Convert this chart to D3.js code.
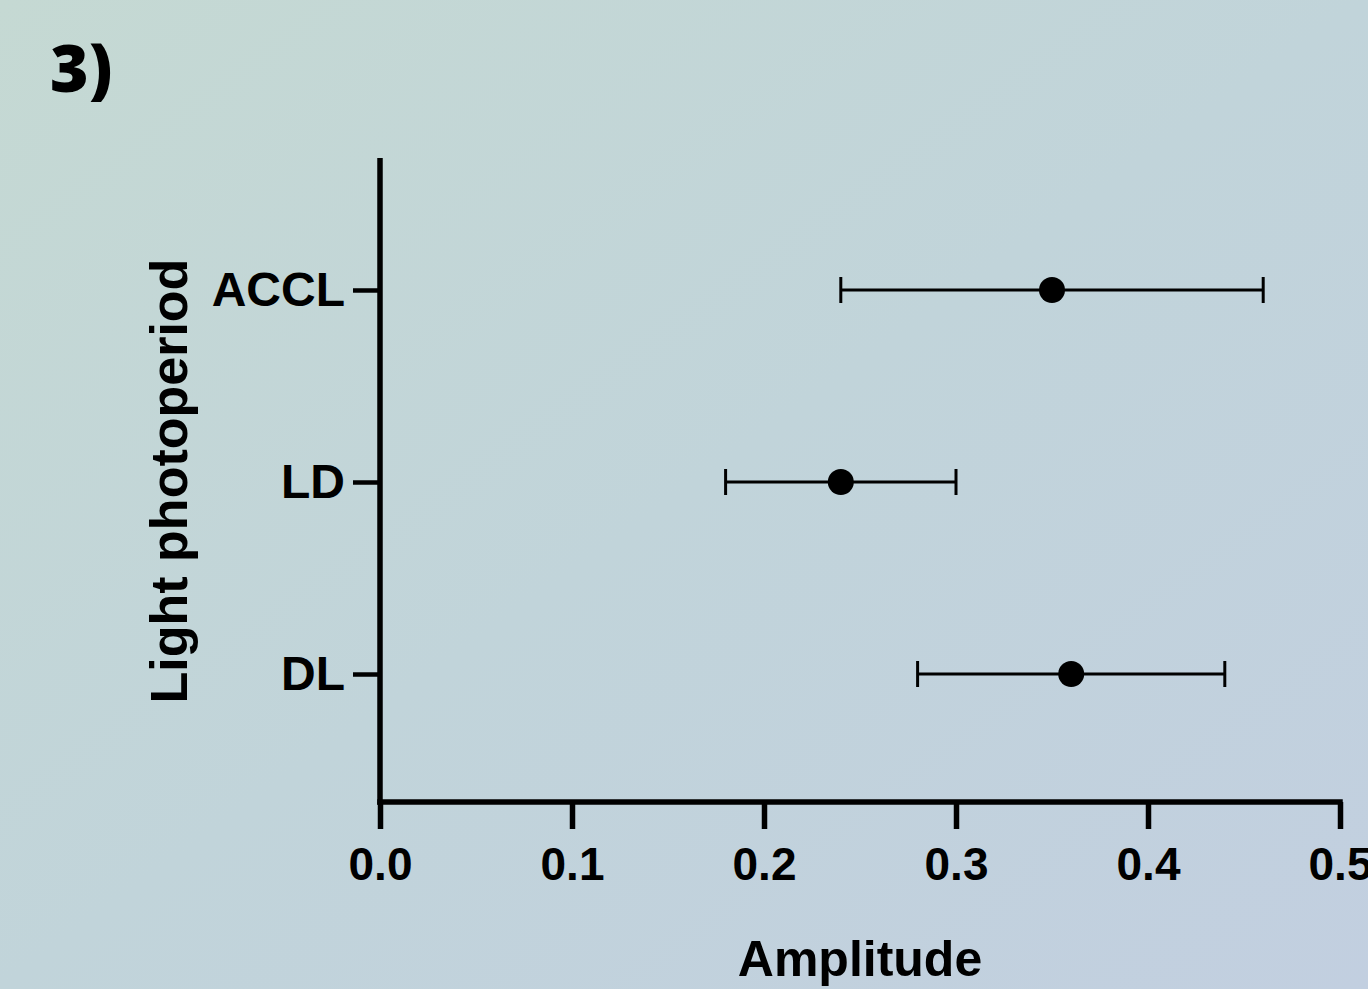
<!DOCTYPE html>
<html>
<head>
<meta charset="utf-8">
<script src="https://cdn.jsdelivr.net/npm/d3@7"></script>
<style>
  html, body { margin: 0; padding: 0; overflow: hidden; }
  svg { display: block; }
</style>
</head>
<body>
<script>
// ---- data ----
const categories = ["ACCL", "LD", "DL"];
const means = [0.35, 0.24, 0.36];
const lowers = [0.24, 0.18, 0.28];
const uppers = [0.46, 0.30, 0.44];
const xTicks = [0.0, 0.1, 0.2, 0.3, 0.4, 0.5];
const xTickLabels = ["0.0", "0.1", "0.2", "0.3", "0.4", "0.5"];
const panelLabel = "3)";
const xTitle = "Amplitude";
const yTitle = "Light photoperiod";

(function () {
const W = 1368, H = 989;
const svg = d3.select("body").append("svg").attr("width", W).attr("height", H);

const defs = svg.append("defs");
const grad = defs.append("linearGradient").attr("id", "bg")
  .attr("x1", "0%").attr("y1", "0%").attr("x2", "100%").attr("y2", "100%");
grad.append("stop").attr("offset", "0%").attr("stop-color", "#c5d9d3");
grad.append("stop").attr("offset", "50%").attr("stop-color", "#c1d4da");
grad.append("stop").attr("offset", "100%").attr("stop-color", "#c2cfe0");
svg.append("rect").attr("width", W).attr("height", H).attr("fill", "url(#bg)");

const pLeft = 380, pRight = 1340, pTop = 158, pBottom = 802;

const x = d3.scaleLinear().domain([0, 0.5]).range([pLeft, pRight]);
const y = d3.scalePoint().domain(categories).range([pTop + 2, pBottom + 2]).padding(0.677);

const font = "'Liberation Sans', Arial, sans-serif";

// panel label
svg.append("text").attr("x", 50).attr("y", 92)
  .attr("font-family", "'Open Sans', sans-serif").attr("font-weight", 800)
  .attr("font-size", 66).attr("fill", "#000").text(panelLabel);

// x axis
const xAxis = d3.axisBottom(x).tickValues(xTicks)
  .tickFormat((d, i) => xTickLabels[i]).tickSize(27).tickSizeOuter(0).tickPadding(18);
const gx = svg.append("g").attr("transform", `translate(0,${pBottom})`).call(xAxis);
gx.select(".domain").attr("stroke", "#000").attr("stroke-width", 5.5)
  .attr("d", `M${pLeft - 2.75},0H${pRight + 2.75}`);
gx.selectAll(".tick line").attr("stroke", "#000").attr("stroke-width", 5.5);
gx.selectAll(".tick text").attr("font-family", font).attr("font-weight", "bold")
  .attr("font-size", 46).attr("fill", "#000");

// y axis
const yAxis = d3.axisLeft(y).tickSize(27).tickSizeOuter(0).tickPadding(8);
const gy = svg.append("g").attr("transform", `translate(${pLeft},0)`).call(yAxis);
gy.select(".domain").attr("stroke", "#000").attr("stroke-width", 5.5)
  .attr("d", `M0,${pTop}V${pBottom + 2.75}`);
gy.selectAll(".tick line").attr("stroke", "#000").attr("stroke-width", 4.5);
gy.selectAll(".tick text").attr("font-family", font).attr("font-weight", "bold")
  .attr("font-size", 48).attr("fill", "#000");

// axis titles
svg.append("text").attr("x", (pLeft + pRight) / 2).attr("y", 976)
  .attr("text-anchor", "middle").attr("font-family", font).attr("font-weight", "bold")
  .attr("font-size", 50).attr("fill", "#000").text(xTitle);
svg.append("text")
  .attr("transform", `translate(187,${(pTop + pBottom) / 2 + 1}) rotate(-90)`)
  .attr("text-anchor", "middle").attr("font-family", font).attr("font-weight", "bold")
  .attr("font-size", 52).attr("fill", "#000").text(yTitle);

// error bars and points
const rows = categories.map((c, i) => ({ c, m: means[i], lo: lowers[i], hi: uppers[i] }));
const g = svg.append("g");
const capH = 13;
g.selectAll(".eb").data(rows).join("line")
  .attr("x1", d => x(d.lo)).attr("x2", d => x(d.hi))
  .attr("y1", d => y(d.c)).attr("y2", d => y(d.c))
  .attr("stroke", "#000").attr("stroke-width", 2.8);
g.selectAll(".capl").data(rows).join("line")
  .attr("x1", d => x(d.lo)).attr("x2", d => x(d.lo))
  .attr("y1", d => y(d.c) - capH).attr("y2", d => y(d.c) + capH)
  .attr("stroke", "#000").attr("stroke-width", 3);
g.selectAll(".capr").data(rows).join("line")
  .attr("x1", d => x(d.hi)).attr("x2", d => x(d.hi))
  .attr("y1", d => y(d.c) - capH).attr("y2", d => y(d.c) + capH)
  .attr("stroke", "#000").attr("stroke-width", 3);
g.selectAll("circle").data(rows).join("circle")
  .attr("cx", d => x(d.m)).attr("cy", d => y(d.c)).attr("r", 13).attr("fill", "#000");
})();
</script>
</body>
</html>
